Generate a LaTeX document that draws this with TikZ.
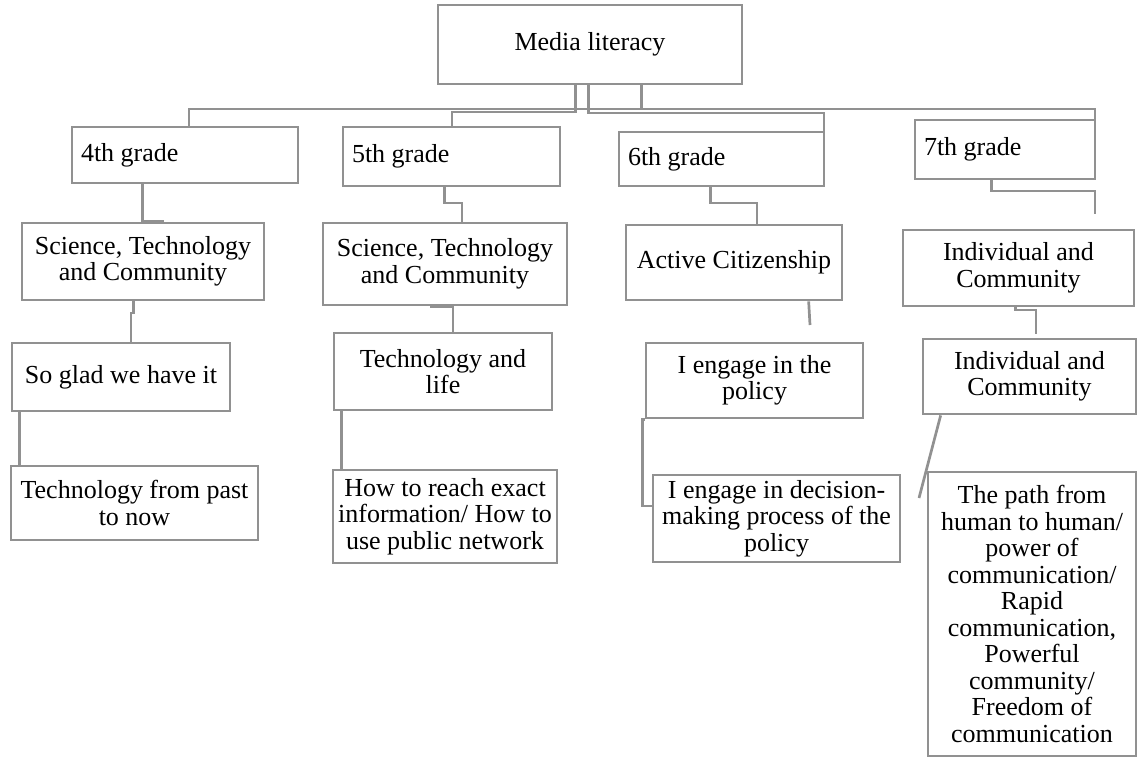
\documentclass[tikz,border=0pt]{standalone}
\usepackage{fontspec}
\setmainfont{Liberation Serif}
\definecolor{linegray}{RGB}{145,145,145}
% box from corner (#3,#4) to corner (#5,#6), style #1, name #2, text #7
\newcommand\placebox[7]{%
  \pgfmathsetmacro\Bw{#5-#3}\pgfmathsetmacro\Bh{#6-#4}%
  \pgfmathsetmacro\Bx{(#3+#5)/2}\pgfmathsetmacro\By{(#4+#6)/2}%
  \pgfmathsetmacro\Tw{#5-#3-18}%
  \node[#1, minimum width=\Bw pt, minimum height=\Bh pt] (#2) at (\Bx,\By) {#7};}
\begin{document}
\begin{tikzpicture}[x=1pt,y=-1pt,
  frame/.style={draw=linegray, line width=2.7pt, inner sep=0pt, align=center,
    font=\fontsize{26}{26.5}\selectfont},
  gradebox/.style={frame, align=flush left, inner xsep=9pt, text width=\Tw pt},
  link/.style={draw=linegray, line width=2.7pt}]
\useasboundingbox (0,0) rectangle (1139,758);

% top
\placebox{frame}{root}{438}{5}{742}{84}{Media literacy}
% grades
\placebox{gradebox}{g4}{72}{127}{298}{183}{4th grade}
\placebox{gradebox}{g5}{343}{127}{560}{186}{5th grade}
\placebox{gradebox}{g6}{619}{132}{824}{186}{6th grade}
\placebox{gradebox}{g7}{915}{120}{1095}{179}{7th grade}
% subjects
\placebox{frame}{s4}{22}{223}{264}{300}{Science, Technology\\and Community}
\placebox{frame}{s5}{323}{223}{567}{305}{Science, Technology\\and Community}
\placebox{frame}{s6}{626}{225}{842}{300}{Active Citizenship}
\placebox{frame}{s7}{903}{230}{1134}{306}{Individual and\\Community}
% units
\placebox{frame}{t4}{12}{343}{230}{411}{So glad we have it}
\placebox{frame}{t5}{334}{333}{552}{410}{Technology and\\life}
\placebox{frame}{t6}{646}{343}{863}{418}{I engage in the\\policy}
\placebox{frame}{t7}{923}{339}{1136}{414}{Individual and\\Community}
% topics
\placebox{frame}{u4}{11}{466}{258}{540}{Technology from past\\to now}
\placebox{frame}{u5}{333}{470}{557}{563}{How to reach exact\\information/ How to\\use public network}
\placebox{frame}{u6}{653}{475}{900}{562}{I engage in decision-\\making process of the\\policy}
\placebox{frame}{u7}{928}{472}{1136}{756}{The path from\\human to human/\\power of\\communication/\\Rapid\\communication,\\Powerful\\community/\\Freedom of\\communication}

% bend points
\coordinate (j1) at (189,109);
\coordinate (j2) at (452,112);
\coordinate (j3) at (824,113);
\coordinate (j4) at (1095,109);
\coordinate (k1) at (164,221);
\coordinate (k2) at (131,313);
\coordinate (k3) at ([xshift=9pt]t4.south west);
\coordinate (k4) at (462,203);
\coordinate (k5) at (453,307);
\coordinate (k6) at ([xshift=9pt]t5.south west);
\coordinate (k7) at (757,203);
\coordinate (k8) at (810,325);
\coordinate (k10) at (653,506);
\coordinate (k11) at (1095,191);
\coordinate (k12) at (1095,214);
\coordinate (k13) at (1036,310);
\coordinate (k14) at (1036,334);
\coordinate (k15) at (919,498);

% root to grades
\draw[link] ([xshift=205pt]root.south west) |- (j1) -- (j1 |- g4.north);
\draw[link] ([xshift=139pt]root.south west) |- (j2) -- (j2 |- g5.north);
\draw[link] ([xshift=152pt]root.south west) |- (j3) -- (j3 |- g6.north);
\draw[link] ([xshift=205pt]root.south west) |- (j4) -- (j4 |- g7.north);

% 4th grade column
\draw[link] ([xshift=72pt]g4.south west) |- (k1);
\draw[link] ([xshift=113pt]s4.south west) |- (k2) -- (k2 |- t4.north);
\draw[link] (k3) -- (k3 |- u4.north);

% 5th grade column
\draw[link] ([xshift=103pt]g5.south west) |- (k4) -- (k4 |- s5.north);
\draw[link] ([xshift=110pt]s5.south west) |- (k5) -- (k5 |- t5.north);
\draw[link] (k6) -- (k6 |- u5.north);

% 6th grade column
\draw[link] ([xshift=93pt]g6.south west) |- (k7) -- (k7 |- s6.north);
\draw[link] ([xshift=184pt]s6.south west) -- (k8);
\draw[link] (t6.south west) -- ++(-2,0) |- (k10);

% 7th grade column
\draw[link] ([xshift=78pt]g7.south west) |- (k11) -- (k12);
\draw[link] ([xshift=114pt]s7.south west) |- (k13) -- (k14);
\draw[link] ([xshift=19pt]t7.south west) -- (k15);
\end{tikzpicture}
\end{document}
